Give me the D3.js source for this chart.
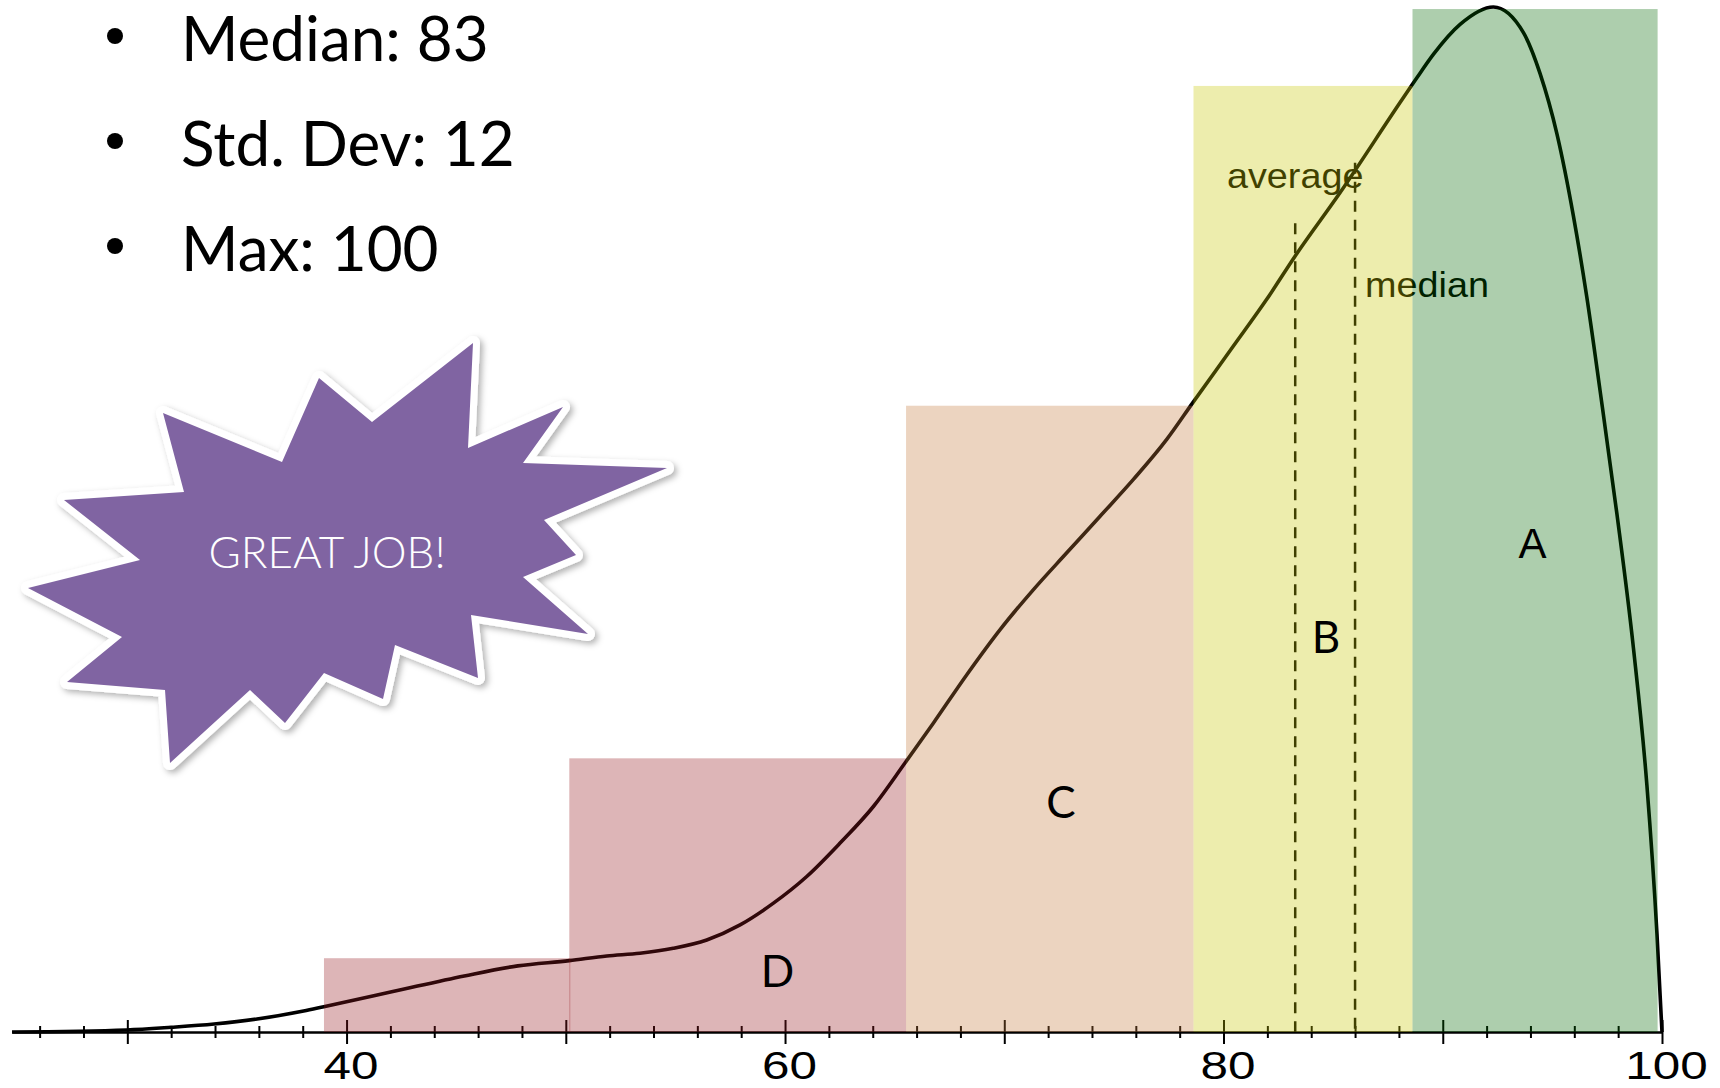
<!DOCTYPE html>
<html><head><meta charset="utf-8">
<script src="https://cdn.jsdelivr.net/npm/d3@7"></script>
<style>body{margin:0;background:#fff} svg{display:block}</style>
</head><body>
<svg id="chart" width="1720" height="1088"></svg>
<script>
// ---------- data ----------
const axisMin = 24.74;
const axisMax = 100;
const tickValues = d3.range(26, 101, 2);
const labeledTicks = [40, 60, 80, 100];

// histogram bins (score ranges) and relative heights
const binStart  = [38.97, 50.16, 65.52, 78.63, 88.62];
const binEnd    = [50.16, 65.52, 78.63, 88.62, 99.80];
const binHeight = [0.072, 0.267, 0.611, 0.923, 0.998];
const binColor  = ["#95181e", "#95181e", "#c4793a", "#c7c700", "#006600"];

// grade letters
const letterNames   = ["D", "C", "B", "A"];
const letterScore   = [59.65, 72.59, 84.67, 94.09];
const letterDensity = [0.044, 0.209, 0.370, 0.462];

// smooth density curve (score, relative density)
const curveScore = [24.74, 29.97, 32.0, 33.96, 35.92, 38.04, 38.96, 42.11, 45.37, 47.81, 50.16,
  51.87, 53.38, 54.90, 56.43, 57.95, 59.47, 60.99, 62.51, 64.03, 65.47, 66.77, 68.29, 69.81,
  71.33, 72.85, 74.37, 75.89, 77.41, 78.60, 80.45, 81.97, 83.27, 85.32, 88.06, 88.82, 89.58,
  90.79, 92.31, 93.68, 94.44, 95.21, 95.96, 96.57, 97.18, 97.94, 98.70, 99.31, 99.77, 100.0];
const curveDensity = [0.000, 0.002, 0.0046, 0.0078, 0.0127, 0.0205, 0.0247, 0.0394, 0.0547, 0.0645, 0.0696,
  0.0742, 0.0769, 0.0817, 0.0898, 0.1045, 0.1257, 0.1517, 0.1843, 0.2200, 0.2624, 0.3015, 0.3486, 0.3926,
  0.4316, 0.4675, 0.5032, 0.5391, 0.5781, 0.6140, 0.6692, 0.7148, 0.7571, 0.8190, 0.907, 0.931, 0.954,
  0.983, 1.000, 0.975, 0.935, 0.876, 0.796, 0.717, 0.625, 0.506, 0.374, 0.241, 0.096, 0.000];

// reference lines
const refNames  = ["average", "median"];
const refValues = [83.27, 86.0];
const refTops   = [0.789, 0.848];

// stats text
const statsLines = ["Median: 83", "Std. Dev: 12", "Max: 100"];
const badgeText = "GREAT JOB!";

// ---------- drawing ----------
const svg = d3.select("#chart");
const x = d3.scaleLinear().domain([axisMin, axisMax]).range([12, 1662]);
const y = d3.scaleLinear().domain([0, 1]).range([1032, 7]);

const defs = svg.append("defs");
const f = defs.append("filter").attr("id", "shadow").attr("x", "-20%").attr("y", "-20%").attr("width", "140%").attr("height", "140%");
f.append("feDropShadow").attr("dx", 3).attr("dy", 3).attr("stdDeviation", 3)
  .attr("flood-color", "#000").attr("flood-opacity", 0.3);

// starburst badge (decorative shape)
const burst = [[473,343],[468,448],[563,407],[523,463],[667,468],[544,520],[576,555],[523,577],
  [588,634],[471,615],[478,678],[395,645],[383,699],[324,673],[285,723],[250,690],[170,763],
  [165,690],[67,682],[122,637],[28,588],[140,560],[64,500],[184,492],[163,413],[282,462],
  [319,378],[372,422]];
const gBurst = svg.append("g");
gBurst.append("polygon").attr("points", burst.map(p => p.join(",")).join(" "))
  .attr("fill", "#fff").attr("stroke", "#fff").attr("stroke-width", 14)
  .attr("stroke-linejoin", "round").attr("filter", "url(#shadow)");
gBurst.append("polygon").attr("points", burst.map(p => p.join(",")).join(" "))
  .attr("fill", "#8064A2");
gBurst.append("text").attr("x", 327).attr("y", 568).attr("text-anchor", "middle")
  .style("font-family", "Lato, 'Open Sans', sans-serif").style("font-weight", 300)
  .style("font-size", "44px").attr("fill", "#fff").text(badgeText);

// stats bullets
const gStats = svg.append("g");
statsLines.forEach((t, i) => {
  const base = 61 + i * 105;
  gStats.append("circle").attr("cx", 115).attr("cy", base - 25).attr("r", 8).attr("fill", "#000");
  gStats.append("text").attr("x", 181).attr("y", base)
    .style("font-family", "Lato, 'Open Sans', sans-serif").style("font-size", "62px")
    .attr("fill", "#000").text(t);
});

// density curve
const line = d3.line().x(d => x(d[0])).y(d => y(d[1])).curve(d3.curveMonotoneX);
svg.append("path").datum(curveScore.map((s, i) => [s, curveDensity[i]]))
  .attr("d", line).attr("fill", "none").attr("stroke", "#000").attr("stroke-width", 3.6)
  .attr("stroke-linejoin", "round");

// axis
const axis = d3.axisBottom(x).tickValues(tickValues).tickSizeOuter(0).tickSizeInner(12)
  .tickFormat(d => labeledTicks.includes(d) ? d : "");
const gAxis = svg.append("g").attr("transform", `translate(0,${y(0)})`).call(axis);
gAxis.select(".domain").attr("stroke", "#000").attr("stroke-width", 2.5);
gAxis.selectAll(".tick line").attr("stroke", "#000").attr("stroke-width", 2)
  .attr("y1", d => d % 10 === 0 ? -12 : -6).attr("y2", d => d % 10 === 0 ? 12 : 6);
gAxis.selectAll(".tick text").attr("y", 0).attr("dy", 0)
  .attr("transform", "translate(4,47) scale(1.3,1)")
  .attr("fill", "#000")
  .style("font-family", "'Liberation Sans', Arial, sans-serif").style("font-size", "38px");

// reference lines + labels
refNames.forEach((n, i) => {
  svg.append("line").attr("x1", x(refValues[i])).attr("x2", x(refValues[i]))
    .attr("y1", y(refTops[i])).attr("y2", y(0))
    .attr("stroke", "#000").attr("stroke-width", 2.5).attr("stroke-dasharray", "11,8");
});
const refFont = "'Liberation Sans', Arial, sans-serif";
svg.append("text").attr("text-anchor", "middle")
  .attr("transform", `translate(${x(refValues[0])},${y(refTops[0]) - 35}) scale(1.08,1)`)
  .style("font-family", refFont).style("font-size", "35px").attr("fill", "#000").text(refNames[0]);
svg.append("text").attr("text-anchor", "start")
  .attr("transform", `translate(${x(refValues[1]) + 10},${y(refTops[1]) + 134}) scale(1.08,1)`)
  .style("font-family", refFont).style("font-size", "35px").attr("fill", "#000").text(refNames[1]);

// bars overlay (semi-transparent)
svg.append("g").selectAll("rect").data(binStart).join("rect")
  .attr("x", (d, i) => x(binStart[i]))
  .attr("width", (d, i) => x(binEnd[i]) - x(binStart[i]) + (binColor[i + 1] === binColor[i] ? 1 : 0))
  .attr("y", (d, i) => y(binHeight[i]))
  .attr("height", (d, i) => y(0) - y(binHeight[i]))
  .attr("fill", (d, i) => binColor[i]).attr("fill-opacity", 0.32);

// grade letters
svg.append("g").selectAll("text").data(letterNames).join("text")
  .attr("x", (d, i) => x(letterScore[i])).attr("y", (d, i) => y(letterDensity[i]))
  .attr("text-anchor", "middle")
  .style("font-family", d => d === "A" ? "'Liberation Sans', Arial, sans-serif" : "Lato, 'Open Sans', sans-serif")
  .style("font-size", d => d === "A" ? "42px" : "44px")
  .attr("fill", "#000").text(d => d);
</script>
</body></html>
